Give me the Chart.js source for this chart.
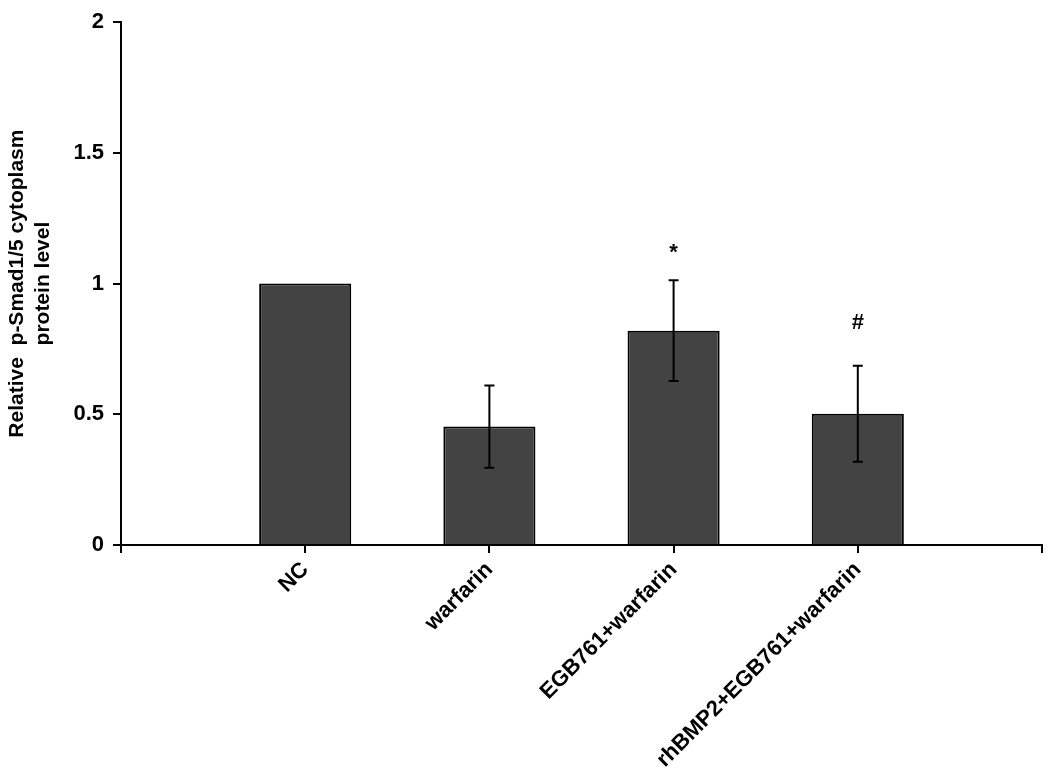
<!DOCTYPE html>
<html>
<head>
<meta charset="utf-8">
<script src="https://cdn.jsdelivr.net/npm/chart.js@4"></script>
<style>
  html, body { margin: 0; padding: 0; background: #fff; }
  #wrap { width: 1050px; height: 781px; }
</style>
</head>
<body>
<div id="wrap"><canvas id="myChart"></canvas></div>
<script>
// Group data
const groups = ["NC", "warfarin", "EGB761+warfarin", "rhBMP2+EGB761+warfarin"];
const means = [1.0, 0.453, 0.82, 0.502];
const errors = [0, 0.157, 0.193, 0.184];
// significance marks and the value height they sit at
const marks = ["", "", "*", "#"];
const markLevels = [0, 0, 1.116, 0.85];
const yTicks = [0, 0.5, 1, 1.5, 2];

const FONT = "'Liberation Sans', Arial, sans-serif";

// error bars + marks drawn through the scales
const errorBarPlugin = {
  id: "errorBars",
  afterDatasetsDraw(chart) {
    const { ctx, scales } = chart;
    const x = scales.x;
    const y = scales.y;
    ctx.save();
    ctx.strokeStyle = "#000";
    ctx.lineWidth = 2;
    means.forEach((m, i) => {
      if (!errors[i]) return;
      const px = x.getPixelForValue(i);
      const top = y.getPixelForValue(m + errors[i]);
      const bot = y.getPixelForValue(m - errors[i]);
      ctx.beginPath();
      ctx.moveTo(px, top);
      ctx.lineTo(px, bot);
      ctx.moveTo(px - 5, top);
      ctx.lineTo(px + 5, top);
      ctx.moveTo(px - 5, bot);
      ctx.lineTo(px + 5, bot);
      ctx.stroke();
    });
    ctx.fillStyle = "#000";
    ctx.font = "bold 22px " + FONT;
    ctx.textAlign = "center";
    ctx.textBaseline = "middle";
    marks.forEach((mk, i) => {
      if (!mk) return;
      ctx.fillText(mk, x.getPixelForValue(i), y.getPixelForValue(markLevels[i]));
    });
    ctx.restore();
  },
};

const data = {
  datasets: [
    {
      label: "p-Smad1/5",
      data: means.map((v, i) => ({ x: i, y: v })),
      backgroundColor: "#434343",
      borderColor: "#000",
      borderWidth: 2,
      categoryPercentage: 0.5,
      barPercentage: 1,
    },
  ],
};

const config = {
  type: "bar",
  data: data,
  options: {
    responsive: true,
    maintainAspectRatio: false,
    animation: false,
    layout: { padding: { top: 20, right: 8, left: 0, bottom: 0 } },
    plugins: {
      legend: { display: false },
      tooltip: { enabled: false },
    },
    scales: {
      x: {
        type: "linear",
        min: -1,
        max: 4,
        offset: false,
        grid: {
          offset: false,
          drawOnChartArea: false,
          drawTicks: true,
          tickLength: 8,
          color: "#000",
          lineWidth: 2,
        },
        border: { display: true, color: "#000", width: 2 },
        afterBuildTicks: (scale) => {
          scale.ticks = [-1, 0, 1, 2, 3, 4].map((v) => ({ value: v }));
        },
        afterFit: (scale) => {
          scale.height = 236;
          scale.paddingLeft = 0;
          scale.paddingRight = 0;
        },
        ticks: {
          autoSkip: false,
          minRotation: 45,
          maxRotation: 45,
          padding: 4,
          color: "#000",
          font: { family: FONT, size: 22, weight: "bold" },
          callback: (value) => groups[value] || "",
        },
      },
      y: {
        min: 0,
        max: 2,
        grid: {
          drawOnChartArea: false,
          drawTicks: true,
          tickLength: 8,
          color: "#000",
          lineWidth: 2,
        },
        border: { display: true, color: "#000", width: 2 },
        afterBuildTicks: (scale) => {
          scale.ticks = yTicks.map((v) => ({ value: v }));
        },
        afterFit: (scale) => {
          scale.width = 121;
        },
        ticks: {
          padding: 9,
          color: "#000",
          font: { family: FONT, size: 22, weight: "bold" },
          callback: (value) => String(value),
        },
        title: {
          display: true,
          text: ["Relative  p-Smad1/5 cytoplasm", "protein level"],
          color: "#000",
          padding: { top: 4, bottom: 0 },
          font: { family: FONT, size: 21, weight: "bold", lineHeight: 1.25 },
        },
      },
    },
  },
  plugins: [errorBarPlugin],
};

new Chart(document.getElementById("myChart"), config);
</script>
</body>
</html>
